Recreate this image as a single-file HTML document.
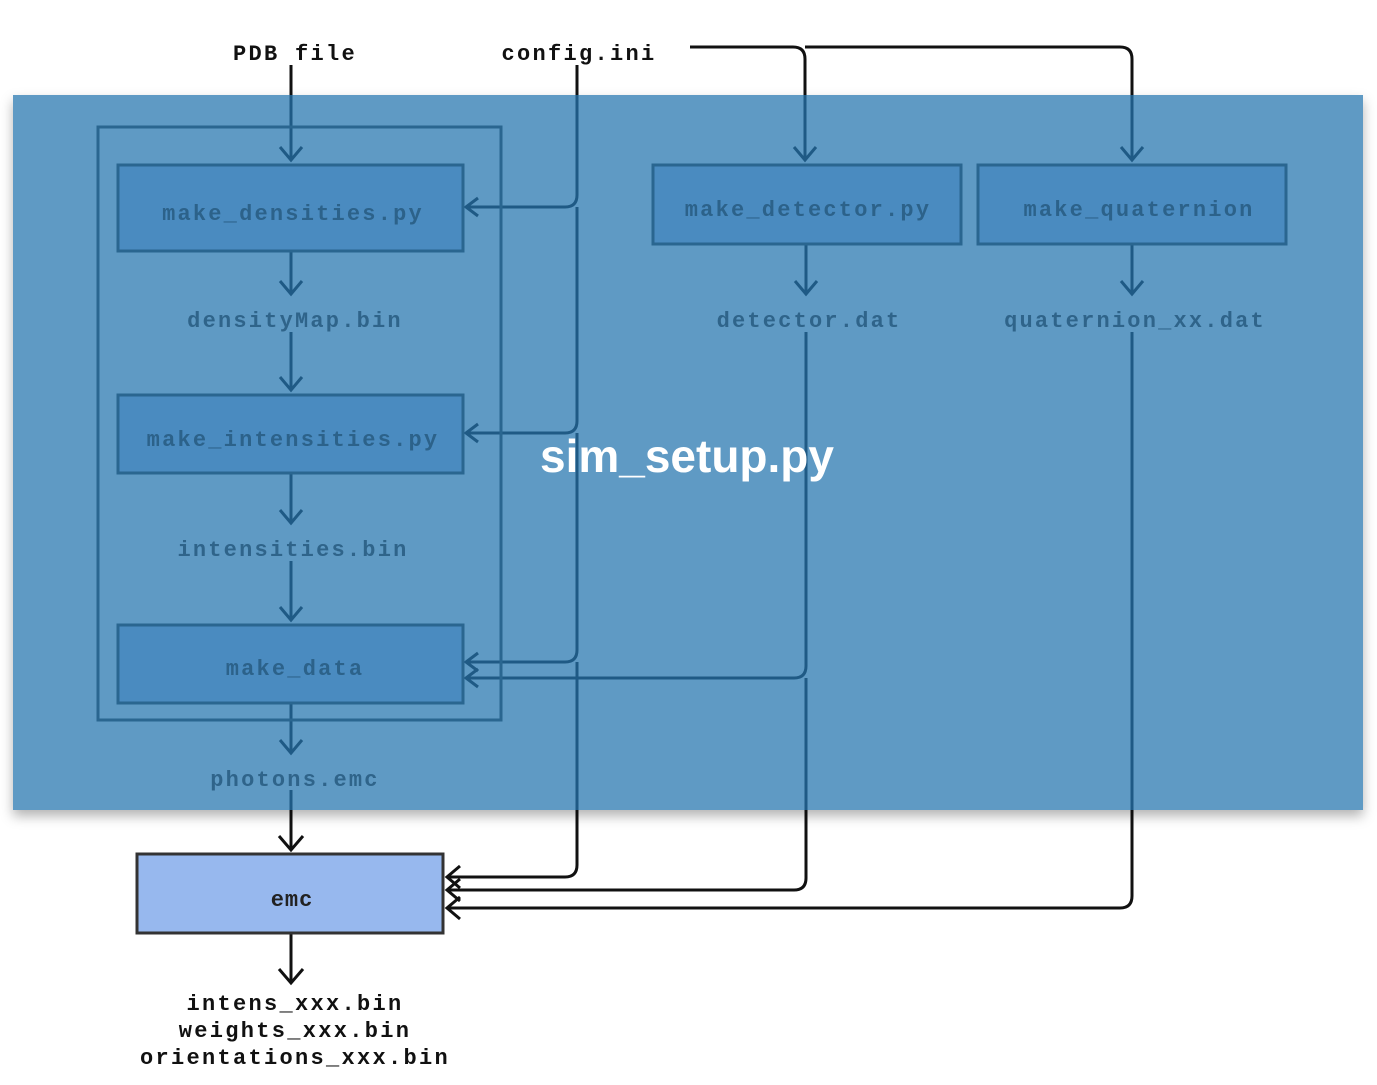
<!DOCTYPE html>
<html><head><meta charset="utf-8"><style>
html,body{margin:0;padding:0;background:#fff;}
svg{display:block}
</style></head><body>
<svg width="1377" height="1085" viewBox="0 0 1377 1085" xmlns="http://www.w3.org/2000/svg">
<defs>
<filter id="sh" x="-5%" y="-5%" width="110%" height="115%"><feDropShadow dx="0" dy="6" stdDeviation="6" flood-color="#000" flood-opacity="0.3"/></filter>
</defs>
<g font-family="Liberation Mono, monospace" font-weight="bold" font-size="22" letter-spacing="2.3" text-anchor="middle" fill="#111">
<text x="295" y="60">PDB file</text>
<text x="579" y="60">config.ini</text>
</g>
<g stroke="#111" stroke-width="3" fill="none">
<path d="M291 65 V100"/>
<path d="M577 65 V100"/>
<path d="M690 47 H793 Q805 47 805 59 V100"/>
<path d="M805 47 H1120 Q1132 47 1132 59 V100"/>
<path d="M291 805 V850"/><path d="M279 836 L291 850 L303 836"/>
<path d="M577 805 V865 Q577 877 565 877 H447"/>
<path d="M806 805 V878 Q806 890 794 890 H447"/>
<path d="M1132 805 V896 Q1132 908 1120 908 H447"/>
<path d="M460 866 L447 877 L460 888 M460 879 L447 890 L460 901 M460 897 L447 908 L460 919"/>
<path d="M291 933 V983"/><path d="M279 969 L291 983 L303 969"/>
</g>
<rect x="137" y="854" width="306" height="79" fill="#97b8ee" stroke="#333" stroke-width="3"/>
<text x="292" y="906" font-family="Liberation Mono, monospace" font-weight="bold" font-size="22" letter-spacing="1" text-anchor="middle" fill="#222">emc</text>
<g font-family="Liberation Mono, monospace" font-weight="bold" font-size="22" letter-spacing="2.3" text-anchor="middle" fill="#111">
<text x="295" y="1010">intens_xxx.bin</text>
<text x="295" y="1037">weights_xxx.bin</text>
<text x="295" y="1064">orientations_xxx.bin</text>
</g>
<rect x="13" y="95" width="1350" height="715" fill="#5f9ac4" filter="url(#sh)"/>
<g stroke="#1f5a85" stroke-width="3" fill="none">
<path d="M291 95 V160"/><path d="M280 147 L291 160 L302 147"/>
<path d="M577 95 V195 Q577 207 565 207 H466 M478 198 L466 207 L478 216"/>
<path d="M577 207 V421 Q577 433 565 433 H466 M478 424 L466 433 L478 442"/>
<path d="M577 433 V650 Q577 662 565 662 H466 M478 653 L466 662 L478 671"/>
<path d="M577 662 V810"/>
<path d="M805 95 V160 M794 147 L805 160 L816 147"/>
<path d="M1132 95 V160 M1121 147 L1132 160 L1143 147"/>
<path d="M806 244 V294 M795 281 L806 294 L817 281"/>
<path d="M1132 244 V294 M1121 281 L1132 294 L1143 281"/>
<path d="M806 332 V666 Q806 678 794 678 H466 M478 669 L466 678 L478 687"/>
<path d="M806 678 V810"/>
<path d="M1132 332 V810"/>
<path d="M291 251 V294 M280 281 L291 294 L302 281"/>
<path d="M291 332 V390 M280 377 L291 390 L302 377"/>
<path d="M291 473 V523 M280 510 L291 523 L302 510"/>
<path d="M291 561 V620 M280 607 L291 620 L302 607"/>
<path d="M291 703 V753 M280 740 L291 753 L302 740"/>
<path d="M291 790 V810"/>
</g>
<rect x="98" y="127" width="403" height="593" fill="none" stroke="#2a6690" stroke-width="3"/>
<g fill="#4a8bc0" stroke="#2a6690" stroke-width="3">
<rect x="118" y="165" width="345" height="86"/>
<rect x="118" y="395" width="345" height="78"/>
<rect x="118" y="625" width="345" height="78"/>
<rect x="653" y="165" width="308" height="79"/>
<rect x="978" y="165" width="308" height="79"/>
</g>
<g font-family="Liberation Mono, monospace" font-size="22" letter-spacing="2.2" text-anchor="middle" fill="#275a80" font-weight="bold" fill-opacity="0.85">
<text x="293" y="220">make_densities.py</text>
<text x="293" y="446">make_intensities.py</text>
<text x="295" y="675">make_data</text>
<text x="808" y="216">make_detector.py</text>
<text x="1139" y="216">make_quaternion</text>
<text x="295" y="327">densityMap.bin</text>
<text x="293" y="556">intensities.bin</text>
<text x="295" y="786">photons.emc</text>
<text x="809" y="327">detector.dat</text>
<text x="1135" y="327">quaternion_xx.dat</text>
</g>
<text x="687" y="472" font-family="Liberation Sans, sans-serif" font-weight="bold" font-size="46" text-anchor="middle" fill="#fff">sim_setup.py</text>
</svg>
</body></html>
